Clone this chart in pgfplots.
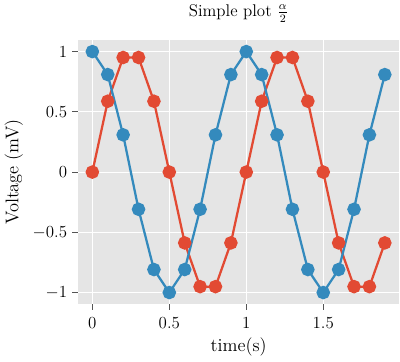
\documentclass[border=0pt]{standalone}
\usepackage{pgfplots}
\pgfplotsset{compat=1.18}
\definecolor{ggbg}{HTML}{E5E5E5}
\definecolor{ggred}{HTML}{E24A33}
\definecolor{ggblue}{HTML}{348ABD}
\definecolor{ggtick}{HTML}{555555}
\begin{document}
\begin{tikzpicture}
\begin{axis}[
  scale only axis,
  width=228pt, height=187pt,
  xmin=-0.095, xmax=1.995,
  ymin=-1.095, ymax=1.095,
  axis background/.style={fill=ggbg},
  axis line style={draw=none},
  grid=major,
  major grid style={white, line width=0.8pt},
  xtick={0,0.5,1,1.5},
  ytick={-1,-0.5,0,0.5,1},
  tick align=outside,
  tick pos=left,
  major tick length=4pt,
  tick style={ggtick, line width=0.6pt},
  xticklabel style={font=\fontsize{13}{15}\selectfont, yshift=-2pt},
  yticklabel style={font=\fontsize{13}{15}\selectfont},
  title={Simple plot $\frac{\alpha}{2}$},
  title style={font=\large, yshift=3pt},
  xlabel={time(s)},
  ylabel={Voltage (mV)},
  label style={font=\fontsize{13}{15}\selectfont},
  every axis plot/.append style={line width=1.6pt, mark=*, mark size=4pt},
]
\addplot[ggred, mark options={fill=ggred, draw=ggred}] coordinates {
(0.0,0.0) (0.1,0.588) (0.2,0.951) (0.3,0.951) (0.4,0.588) (0.5,0.0)
(0.6,-0.588) (0.7,-0.951) (0.8,-0.951) (0.9,-0.588) (1.0,0.0)
(1.1,0.588) (1.2,0.951) (1.3,0.951) (1.4,0.588) (1.5,0.0)
(1.6,-0.588) (1.7,-0.951) (1.8,-0.951) (1.9,-0.588)
};
\addplot[ggblue, mark options={fill=ggblue, draw=ggblue}] coordinates {
(0.0,1.0) (0.1,0.809) (0.2,0.309) (0.3,-0.309) (0.4,-0.809) (0.5,-1.0)
(0.6,-0.809) (0.7,-0.309) (0.8,0.309) (0.9,0.809) (1.0,1.0)
(1.1,0.809) (1.2,0.309) (1.3,-0.309) (1.4,-0.809) (1.5,-1.0)
(1.6,-0.809) (1.7,-0.309) (1.8,0.309) (1.9,0.809)
};
\end{axis}
\end{tikzpicture}
\end{document}
